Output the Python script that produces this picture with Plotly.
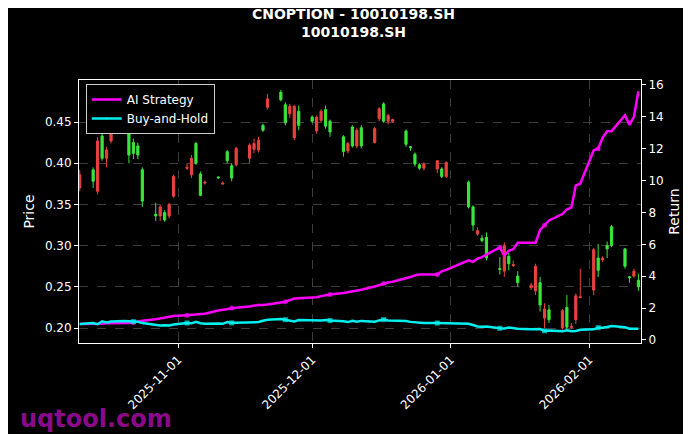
import pandas as pd
import plotly.graph_objects as go

# ---- data ----
dates = pd.bdate_range('2025-10-10', '2026-02-12', freq='C',
                       holidays=['2026-01-01', '2026-01-02'])

opens = [0.386, 0.378, 0.427, 0.406, 0.416, 0.460, 0.452, 0.410, 0.412, 0.410, 0.354,
         0.336, 0.347, 0.331, 0.350, 0.384, 0.395, 0.406, 0.400, 0.361, 0.377,
         0.382, 0.376, 0.403, 0.382, 0.418, 0.422, 0.424, 0.428, 0.440, 0.478,
         0.477, 0.449, 0.469, 0.469, 0.446, 0.451, 0.456, 0.463, 0.445, 0.438,
         0.414, 0.424, 0.421, 0.440, 0.421, 0.442, 0.466, 0.451, 0.458, 0.453,
         0.423, 0.419, 0.399, 0.394, 0.399, 0.403, 0.384, 0.401, 0.347, 0.325,
         0.318, 0.306, 0.285, 0.271, 0.300, 0.278, 0.277, 0.255, 0.252, 0.275,
         0.228, 0.223, 0.210, 0.221, 0.201, 0.202, 0.239, 0.238, 0.295, 0.270,
         0.285, 0.296, 0.300, 0.275, 0.261, 0.269, 0.250]
closes = [0.370, 0.392, 0.366, 0.433, 0.406, 0.427, 0.439, 0.437, 0.425, 0.421, 0.392,
          0.338, 0.336, 0.340, 0.336, 0.360, 0.394, 0.386, 0.424, 0.387, 0.376,
          0.383, 0.375, 0.414, 0.397, 0.398, 0.406, 0.417, 0.416, 0.446, 0.468,
          0.486, 0.471, 0.460, 0.431, 0.463, 0.456, 0.439, 0.452, 0.465, 0.451,
          0.432, 0.415, 0.444, 0.421, 0.443, 0.425, 0.454, 0.472, 0.451, 0.451,
          0.439, 0.420, 0.411, 0.398, 0.394, 0.393, 0.393, 0.384, 0.377, 0.347,
          0.314, 0.309, 0.310, 0.272, 0.269, 0.287, 0.276, 0.263, 0.249, 0.245,
          0.255, 0.212, 0.222, 0.200, 0.225, 0.201, 0.210, 0.237, 0.246, 0.285,
          0.283, 0.300, 0.323, 0.296, 0.262, 0.263, 0.258]
highs = [0.392, 0.395, 0.432, 0.440, 0.420, 0.462, 0.455, 0.442, 0.430, 0.425, 0.395,
         0.352, 0.350, 0.343, 0.352, 0.386, 0.400, 0.410, 0.426, 0.390, 0.379,
         0.384, 0.378, 0.416, 0.400, 0.420, 0.424, 0.430, 0.432, 0.448, 0.484,
         0.489, 0.474, 0.472, 0.471, 0.470, 0.458, 0.458, 0.466, 0.470, 0.453,
         0.434, 0.426, 0.446, 0.443, 0.446, 0.444, 0.468, 0.474, 0.460, 0.454,
         0.441, 0.421, 0.413, 0.400, 0.401, 0.404, 0.395, 0.402, 0.379, 0.349,
         0.322, 0.313, 0.316, 0.286, 0.304, 0.291, 0.282, 0.269, 0.255, 0.278,
         0.262, 0.230, 0.228, 0.223, 0.240, 0.206, 0.242, 0.272, 0.297, 0.302,
         0.287, 0.305, 0.325, 0.297, 0.263, 0.272, 0.266]
lows = [0.366, 0.370, 0.362, 0.403, 0.395, 0.424, 0.436, 0.400, 0.405, 0.405, 0.347,
        0.330, 0.330, 0.329, 0.333, 0.358, 0.392, 0.382, 0.398, 0.360, 0.374,
        0.381, 0.374, 0.400, 0.378, 0.396, 0.400, 0.412, 0.413, 0.438, 0.465,
        0.475, 0.446, 0.455, 0.428, 0.440, 0.449, 0.436, 0.450, 0.442, 0.432,
        0.408, 0.412, 0.419, 0.418, 0.418, 0.424, 0.451, 0.449, 0.447, 0.449,
        0.420, 0.415, 0.396, 0.392, 0.391, 0.388, 0.382, 0.382, 0.345, 0.318,
        0.312, 0.304, 0.282, 0.265, 0.262, 0.270, 0.274, 0.250, 0.246, 0.240,
        0.220, 0.200, 0.206, 0.198, 0.199, 0.199, 0.205, 0.236, 0.240, 0.262,
        0.280, 0.285, 0.298, 0.272, 0.255, 0.261, 0.245]

ai_strategy = [1.0, 1.0, 1.0, 1.02, 1.05, 1.05, 1.05, 1.07, 1.1, 1.15, 1.2,
               1.3, 1.35, 1.4, 1.45, 1.5, 1.55, 1.57, 1.6, 1.62, 1.65,
               1.85, 1.9, 1.95, 2.0, 2.02, 2.1, 2.15, 2.2, 2.2, 2.22,
               2.35, 2.4, 2.5, 2.6, 2.62, 2.65, 2.68, 2.75, 2.8, 2.85,
               2.95, 3.0, 3.05, 3.1, 3.15, 3.35, 3.45, 3.55, 3.6, 3.65,
               3.85, 3.95, 4.05, 4.1, 4.1, 4.1, 4.3, 4.4, 5.0, 4.9,
               5.1, 5.2, 5.35, 5.8, 5.3, 5.6, 5.7, 6.1, 6.1, 6.1,
               6.9, 7.2, 7.5, 7.9, 8.2, 8.3, 9.7, 9.8, 11.9, 12.0,
               12.7, 13.1, 13.1, 14.1, 13.5, 14.0, 15.6]
buy_hold = [c / closes[0] for c in closes]

GREEN = '#3ae63c'
RED = '#e8433f'
marker_sizes = [5 if (i % 8 == 0 and i > 0) else 0 for i in range(len(dates))]

fig = go.Figure()
fig.add_trace(go.Candlestick(
    x=dates, open=opens, high=highs, low=lows, close=closes,
    increasing=dict(line=dict(color=GREEN, width=1), fillcolor=GREEN),
    decreasing=dict(line=dict(color=RED, width=1), fillcolor=RED),
    whiskerwidth=0, showlegend=False, name='Price'))
fig.add_trace(go.Scatter(
    x=dates, y=ai_strategy, name='AI Strategy', yaxis='y2', mode='lines+markers',
    line=dict(color='#ff00ff', width=2.5),
    marker=dict(size=marker_sizes, color='#ff00ff', line=dict(width=0))))
fig.add_trace(go.Scatter(
    x=dates, y=buy_hold, name='Buy-and-Hold', yaxis='y2', mode='lines+markers',
    line=dict(color='#00f0f0', width=2.5),
    marker=dict(size=marker_sizes, color='#00f0f0', symbol='square', line=dict(width=0))))

grid = dict(gridcolor='#3c3c3c', griddash='dash', gridwidth=0.6)
fig.update_layout(
    width=691, height=434,
    paper_bgcolor='black', plot_bgcolor='black',
    font=dict(family='DejaVu Sans', color='white', size=12),
    margin=dict(l=71, r=58, t=72, b=99, autoexpand=False),
    title=dict(text='<b>CNOPTION - 10010198.SH<br>10010198.SH</b>',
               x=0.5, xanchor='center', y=0.975, yanchor='top', font=dict(size=14)),
    xaxis=dict(type='date', range=['2025-10-09 20:00', '2026-02-12 14:00'],
               rangeslider=dict(visible=False), automargin=False,
               tickvals=['2025-11-01', '2025-12-01', '2026-01-01', '2026-02-01'],
               ticktext=['2025-11-01', '2025-12-01', '2026-01-01', '2026-02-01'],
               tickangle=-45, ticks='outside', ticklen=4, tickcolor='white',
               showline=True, linecolor='white', mirror=True, zeroline=False, **grid),
    yaxis=dict(title=dict(text='Price', standoff=6), range=[0.1818, 0.501],
               tickvals=[0.20, 0.25, 0.30, 0.35, 0.40, 0.45], tickformat='.2f',
               ticks='outside', ticklen=4, tickcolor='white', automargin=False,
               showline=True, linecolor='white', zeroline=False, **grid),
    yaxis2=dict(title=dict(text='Return', standoff=6), overlaying='y', side='right',
                range=[-0.19, 16.31], tickvals=list(range(0, 17, 2)),
                ticks='outside', ticklen=4, tickcolor='white', automargin=False,
                showline=True, linecolor='white', showgrid=False, zeroline=False),
    legend=dict(x=0.012, y=0.985, xanchor='left', yanchor='top',
                bgcolor='black', bordercolor='#cccccc', borderwidth=1,
                font=dict(size=12)),
)
fig.add_annotation(text='<b>uqtool.com</b>', xref='paper', yref='paper',
                   x=-0.108, y=-0.35, xanchor='left', yanchor='bottom', showarrow=False,
                   font=dict(size=24, color='#8a0a8a', family='DejaVu Sans'))

fig.write_html('out.html')
